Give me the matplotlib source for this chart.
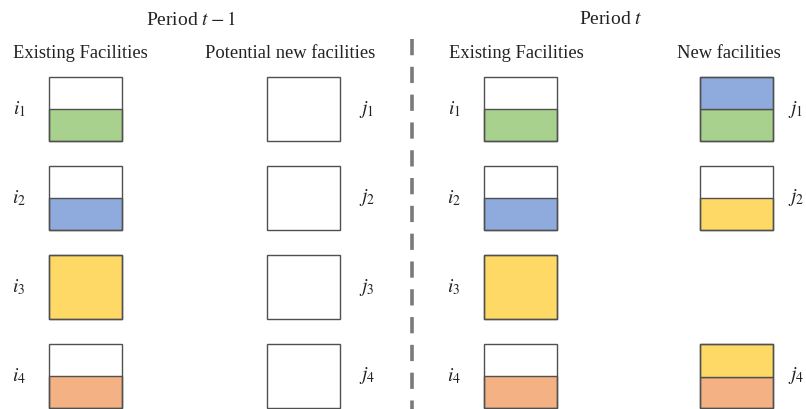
import matplotlib
matplotlib.use("Agg")
import matplotlib.pyplot as plt

# ---------------- data ----------------
facility_rows = ["1", "2", "3", "4"]
existing_colors = ["green", "blue", "yellow", "orange"]
existing_fill = [0.5, 0.5, 1.0, 0.5]          # same in period t-1 and t
potential_fill = [0.0, 0.0, 0.0, 0.0]          # period t-1 new facilities (empty)
# period t new facilities: stacked segments (bottom -> top)
new_segments = [
    [("green", 0.5), ("blue", 0.5)],
    [("yellow", 0.5)],
    None,                                      # j3 not opened
    [("orange", 0.48), ("yellow", 0.52)],
]
palette = {"green": "#A9D18E", "blue": "#8FAADC",
           "yellow": "#FFD966", "orange": "#F4B183"}

# ---------------- layout ----------------
W, H = 806, 409
fig = plt.figure(figsize=(W / 100, H / 100), dpi=100)
ax = fig.add_axes([0, 0, 1, 1])
ax.set_xlim(0, W)
ax.set_ylim(H, 0)
ax.axis("off")

plt.rcParams["mathtext.fontset"] = "stix"
serif = "Liberation Serif"
txtc = "#222222"

box_w, box_h = 73, 64
row_top = [77, 166, 255, 344]
col_x = {"ex1": 85.5, "pot": 303.5, "ex2": 520.5, "new": 736.5}
edge = "#505050"

def draw_box(cx, top, segments):
    bottom = top + box_h
    for cname, frac in segments:
        h = frac * box_h
        ax.bar(cx, -h, bottom=bottom, width=box_w, color=palette[cname],
               edgecolor=edge, linewidth=1.0, zorder=2)
        bottom -= h
    ax.bar(cx, -box_h, bottom=top + box_h, width=box_w, color="none",
           edgecolor=edge, linewidth=1.0, zorder=3)

for k, r in enumerate(facility_rows):
    top = row_top[k]
    ex_seg = [(existing_colors[k], existing_fill[k])]
    draw_box(col_x["ex1"], top, ex_seg)
    draw_box(col_x["ex2"], top, ex_seg)
    draw_box(col_x["pot"], top, [])
    if new_segments[k] is not None:
        draw_box(col_x["new"], top, new_segments[k])
    yc = top + box_h / 2
    ax.text(19, yc, rf"$i_{r}$", fontsize=14, ha="center", va="center", color=txtc)
    ax.text(367, yc, rf"$j_{r}$", fontsize=14, ha="center", va="center", color=txtc)
    ax.text(454, yc, rf"$i_{r}$", fontsize=14, ha="center", va="center", color=txtc)
    if new_segments[k] is not None:
        ax.text(796, yc, rf"$j_{r}$", fontsize=14, ha="center", va="center", color=txtc)

# headings
ax.text(191, 20, r"Period $t-1$", fontsize=14, ha="center", va="center",
        color=txtc, family=serif)
ax.text(611, 20, r"Period $t$", fontsize=14, ha="center", va="center",
        color=txtc, family=serif)
ax.text(80.5, 53, "Existing Facilities", fontsize=13.3, ha="center", va="center",
        color=txtc, family=serif)
ax.text(290.5, 53, "Potential new facilities", fontsize=13.3, ha="center", va="center",
        color=txtc, family=serif)
ax.text(516.5, 53, "Existing Facilities", fontsize=13.3, ha="center", va="center",
        color=txtc, family=serif)
ax.text(728.5, 53, "New facilities", fontsize=13.3, ha="center", va="center",
        color=txtc, family=serif)

# dashed separator
ax.plot([412, 412], [39, H], color="#7a7a7a", linewidth=2.6,
        linestyle=(0, (4.5, 3.2)), zorder=1)

fig.savefig("out.png", dpi=100, facecolor="white")
